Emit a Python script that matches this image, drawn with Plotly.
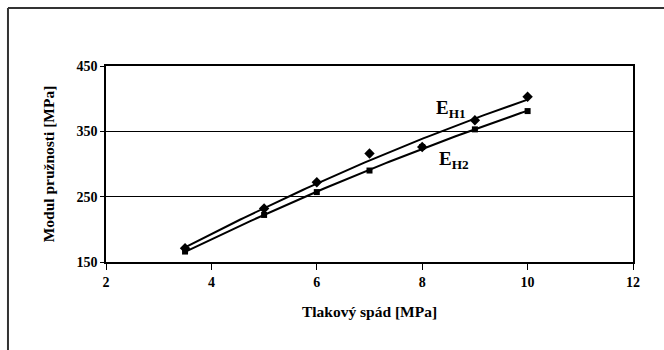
import numpy as np
import plotly.graph_objects as go

pressure = [3.5, 5, 6, 7, 8, 9, 10]
eh1 = [171, 232, 272, 316, 326, 367, 403]
eh2 = [166, 222, 257, 290, 326, 353, 381]
x_ticks = [2, 4, 6, 8, 10, 12]
y_ticks = [150, 250, 350, 450]

font_family = "Liberation Serif"

fig = go.Figure()

xs = np.linspace(min(pressure), max(pressure), 100)
for vals, sym in [(eh1, "diamond"), (eh2, "square")]:
    coef = np.polyfit(pressure, vals, 2)
    fig.add_trace(go.Scatter(x=xs, y=np.polyval(coef, xs), mode="lines",
                             line=dict(color="black", width=2), showlegend=False,
                             hoverinfo="skip"))
    fig.add_trace(go.Scatter(x=pressure, y=vals, mode="markers",
                             marker=dict(symbol=sym, color="black", size=8 if sym == "diamond" else 6),
                             showlegend=False))

fig.add_annotation(x=8.55, y=384, xref="x", yref="y", showarrow=False,
                   text="E<sub>H1</sub>",
                   font=dict(family=font_family, size=19, color="black", weight="bold"))
fig.add_annotation(x=8.6, y=306, xref="x", yref="y", showarrow=False,
                   text="E<sub>H2</sub>",
                   font=dict(family=font_family, size=19, color="black", weight="bold"))

# outer frame (left and top only visible)
fig.add_shape(type="line", xref="paper", yref="paper", x0=-0.186, x1=1.1, y0=1.296, y1=1.296,
              line=dict(color="#333", width=2))
fig.add_shape(type="line", xref="paper", yref="paper", x0=-0.186, x1=-0.186, y0=1.296, y1=-0.47,
              line=dict(color="#333", width=2))

fig.update_layout(
    width=664, height=350,
    margin=dict(l=106, r=31, t=66, b=88),
    paper_bgcolor="white", plot_bgcolor="white",
    font=dict(family=font_family, color="black"),
    xaxis=dict(range=[2, 12], tickvals=x_ticks,
               showgrid=False, zeroline=False, showline=True, linecolor="black", linewidth=1.5,
               mirror=True, ticks="outside", ticklen=6, tickcolor="black",
               tickfont=dict(size=14, family=font_family, weight="bold"),
               title=dict(text="Tlakový spád [MPa]", font=dict(size=15.5, family=font_family, weight="bold"), standoff=18)),
    yaxis=dict(range=[150, 450], tickvals=y_ticks,
               showgrid=True, gridcolor="black", gridwidth=1, zeroline=False,
               showline=True, linecolor="black", linewidth=1.5, mirror=True,
               ticks="outside", ticklen=4, tickcolor="black",
               tickfont=dict(size=14, family=font_family, weight="bold"),
               title=dict(text="Modul pružnosti [MPa]", font=dict(size=15.5, family=font_family, weight="bold"), standoff=18)),
)

fig.write_html("out.html")
